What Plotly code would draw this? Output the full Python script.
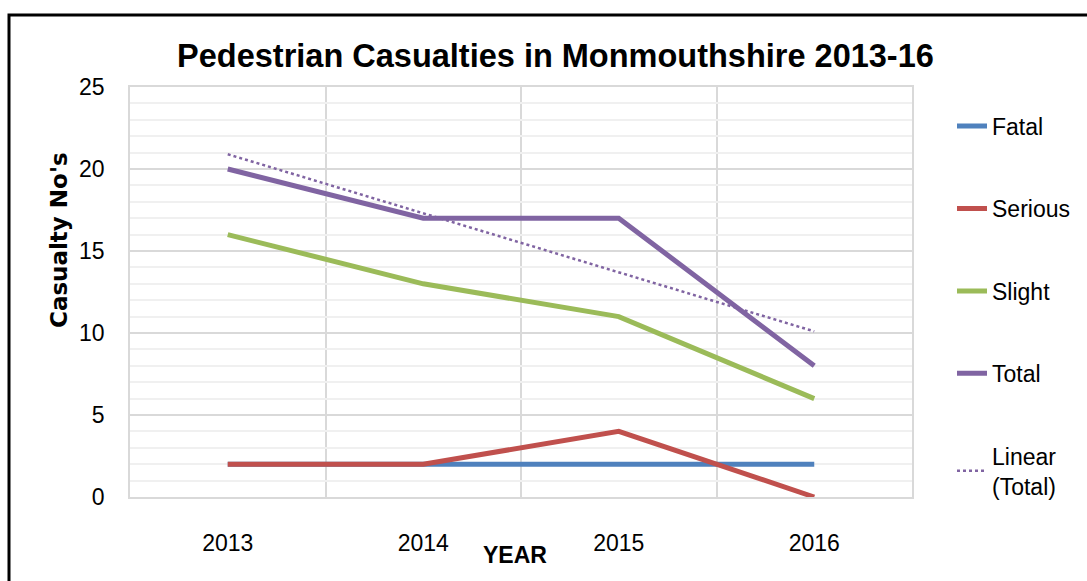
import numpy as np
import plotly.graph_objects as go

years = ["2013", "2014", "2015", "2016"]
fatal = [2, 2, 2, 2]
serious = [2, 2, 4, 0]
slight = [16, 13, 11, 6]
total = [20, 17, 17, 8]

series_names = ["Fatal", "Serious", "Slight", "Total"]
series_colors = ["#4F81BD", "#C0504D", "#9BBB59", "#8064A2"]
y_ticks = [0, 5, 10, 15, 20, 25]

FONT = "Liberation Sans"
xs = list(range(len(years)))

fig = go.Figure()
for name, vals, col in zip(series_names, [fatal, serious, slight, total], series_colors):
    fig.add_trace(go.Scatter(x=xs, y=vals, mode="lines", name=name, legendgroup=name,
                             line=dict(color=col, width=5)))

# linear trend of Total (least squares)
coef = np.polyfit(np.arange(1, len(total) + 1), total, 1)
trend = np.polyval(coef, np.arange(1, len(total) + 1))
fig.add_trace(go.Scatter(x=xs, y=trend, mode="lines", name="Linear<br>(Total)", legendgroup="trend",
                         line=dict(color="#8064A2", width=2.5, dash="dot")))

fig.update_layout(
    width=1087, height=581,
    margin=dict(l=130, r=175, t=87, b=84),
    paper_bgcolor="white", plot_bgcolor="white",
    font=dict(family=FONT, color="black", size=23),
    showlegend=True,
    legend=dict(x=(952 - 130) / 782, xanchor="left", y=0.957, yanchor="top",
                tracegroupgap=49.5, font=dict(size=23, family=FONT), itemwidth=30),
    title=dict(text="<b>Pedestrian Casualties in Monmouthshire 2013-16</b>",
               x=0.511, xanchor="center", y=0.905, yanchor="middle",
               font=dict(size=32.5, family=FONT, color="black")),
)

fig.update_xaxes(
    range=[-0.5, len(years) - 0.5], tickmode="array", tickvals=xs, ticktext=years,
    showgrid=False, zeroline=False, showline=True, mirror=True, linecolor="#d9d9d9", linewidth=1.5,
    ticks="", ticklabelstandoff=25, tickfont=dict(size=23),
    minor=dict(tickmode="array", tickvals=[i + 0.5 for i in xs[:-1]], showgrid=True,
               gridcolor="#d9d9d9", gridwidth=1.5, ticks=""),
)
fig.update_yaxes(
    range=[0, 25], tickmode="array", tickvals=y_ticks,
    showgrid=True, gridcolor="#d9d9d9", gridwidth=1.5,
    zeroline=False, showline=True, mirror=True, linecolor="#d9d9d9", linewidth=1.5,
    ticks="", ticklabelstandoff=19, tickfont=dict(size=23),
    minor=dict(dtick=1, showgrid=True, gridcolor="#f0f0f0", gridwidth=1.5, ticks=""),
)

fig.add_annotation(text="<b>Casualty No's</b>", xref="paper", yref="paper",
                   x=(59 - 130) / 782, y=(497 - 240) / 410, textangle=-90,
                   xanchor="center", yanchor="middle",
                   showarrow=False, font=dict(size=23, family="DejaVu Sans", color="black"))
fig.add_annotation(text="<b>YEAR</b>", xref="paper", yref="paper",
                   x=(515 - 130) / 782, y=(497 - 555) / 410,
                   xanchor="center", yanchor="middle",
                   showarrow=False, font=dict(size=23, family=FONT, color="black"))

# outer chart border (cut off at right and bottom)
fig.add_shape(type="rect", xref="paper", yref="paper",
              x0=(9 - 130) / 782, x1=(1100 - 130) / 782,
              y0=(497 - 600) / 410, y1=(497 - 15) / 410,
              line=dict(color="black", width=3), fillcolor="rgba(0,0,0,0)", layer="above")

fig.write_html("out.html", config={"displayModeBar": False},
               post_script="document.body.style.margin='0';")
